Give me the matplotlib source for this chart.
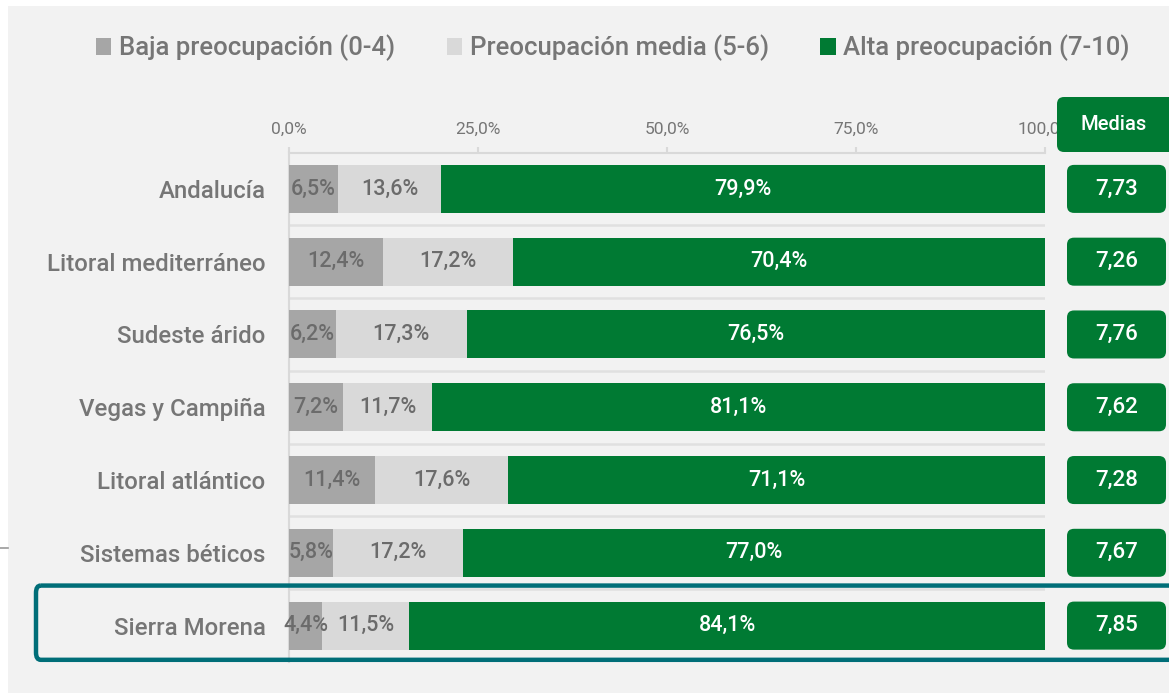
import matplotlib
matplotlib.use("Agg")
import matplotlib.pyplot as plt
from matplotlib.patches import Rectangle, FancyBboxPatch, Patch
from matplotlib.transforms import IdentityTransform, blended_transform_factory
from matplotlib.lines import Line2D

plt.rcParams['font.family'] = ['Roboto', 'DejaVu Sans']

categories = ["Andalucía", "Litoral mediterráneo", "Sudeste árido", "Vegas y Campiña",
              "Litoral atlántico", "Sistemas béticos", "Sierra Morena"]
baja = [6.5, 12.4, 6.2, 7.2, 11.4, 5.8, 4.4]
media = [13.6, 17.2, 17.3, 11.7, 17.6, 17.2, 11.5]
alta = [79.9, 70.4, 76.5, 81.1, 71.1, 77.0, 84.1]
medias = [7.73, 7.26, 7.76, 7.62, 7.28, 7.67, 7.85]
series_labels = ["Baja preocupación (0-4)", "Preocupación media (5-6)", "Alta preocupación (7-10)"]
xticks = [0, 25, 50, 75, 100]
highlight = "Sierra Morena"

C_BAJA = "#a6a6a6"
C_MEDIA = "#d9d9d9"
C_ALTA = "#007a33"
C_TEXT = "#767676"
C_TEAL = "#006e78"
BG = "#f2f2f2"

W, H = 1169, 693
fig = plt.figure(figsize=(W / 100, H / 100), dpi=100)
fig.patch.set_facecolor("white")
# background panel
fig.patches.append(Rectangle((8 / W, 0), 1 - 8 / W, 1 - 6 / H, transform=fig.transFigure,
                             facecolor=BG, edgecolor="none", zorder=-10))
fig.lines.append(Line2D([0, 8 / W], [1 - 548 / H, 1 - 548 / H], transform=fig.transFigure,
                        color="#9a9a9a", lw=1.2))

ax = fig.add_axes([289 / W, 1 - 662 / H, (1045 - 289) / W, (662 - 152.5) / H])
ax.set_facecolor("none")

def fmt(v, d=1):
    return f"{v:.{d}f}".replace(".", ",")

ypos = list(range(len(categories)))
bh = 0.66
lefts = [0] * len(categories)
for vals, col, tcol in [(baja, C_BAJA, "#6b6b6b"), (media, C_MEDIA, "#6b6b6b"), (alta, C_ALTA, "white")]:
    ax.barh(ypos, vals, left=lefts, height=bh, color=col, edgecolor="none", zorder=3)
    for y, l, v in zip(ypos, lefts, vals):
        ax.text(l + v / 2, y, fmt(v) + "%", ha="center", va="center", color=tcol,
                fontsize=15.5, fontweight="medium", zorder=5)
    lefts = [a + b for a, b in zip(lefts, vals)]

ax.set_xlim(0, 100)
ax.set_ylim(len(categories) - 0.5, -0.5)
ax.set_yticks(ypos)
ax.set_yticklabels(categories, fontsize=17.3, color=C_TEXT, fontweight="medium")
ax.tick_params(axis="y", length=0, pad=17)
ax.xaxis.tick_top()
ax.set_xticks(xticks)
ax.set_xticklabels([fmt(t) + "%" for t in xticks], fontsize=12.5, color=C_TEXT)
ax.tick_params(axis="x", length=4.5, width=1.5, color="#d9d9d9", pad=7)
for s in ["right", "bottom"]:
    ax.spines[s].set_visible(False)
for s in ["top", "left"]:
    ax.spines[s].set_color("#d9d9d9")
    ax.spines[s].set_linewidth(1.5)
ax.hlines([y + 0.5 for y in ypos], 0, 100, color="#e0e0e0", lw=1.8, zorder=1)

# Medias column
fig.canvas.draw()
ident = IdentityTransform()
hx0, hx1 = 1057, 1180
hy0, hy1 = H - 152, H - 97
fig.patches.append(FancyBboxPatch((hx0, hy0), hx1 - hx0, hy1 - hy0,
                                  boxstyle="round,pad=0,rounding_size=7",
                                  transform=ident, facecolor=C_ALTA, edgecolor="none", zorder=20))
fig.text(1114 / W, (hy0 + hy1) / 2 / H, "Medias", ha="center", va="center",
         color="white", fontsize=14.5, fontweight="medium", zorder=21)
bx0, bx1 = 1067, 1166
for y, m in zip(ypos, medias):
    yc = ax.transData.transform((0, y))[1]
    top = ax.transData.transform((0, y - bh / 2))[1]
    bot = ax.transData.transform((0, y + bh / 2))[1]
    fig.patches.append(FancyBboxPatch((bx0, bot), bx1 - bx0, top - bot,
                                      boxstyle="round,pad=0,rounding_size=7",
                                      transform=ident, facecolor=C_ALTA, edgecolor="none", zorder=20))
    fig.text((bx0 + bx1) / 2 / W, yc / H, fmt(m, 2), ha="center", va="center",
             color="white", fontsize=16, fontweight="medium", zorder=21)

# highlight box
hi = categories.index(highlight)
trans = blended_transform_factory(fig.transFigure, ax.transData)
ax.add_patch(FancyBboxPatch((36 / W, hi - 0.55), 1.2, 1.02, transform=trans, fill=False,
                            boxstyle="round,pad=0,rounding_size=0.004", mutation_aspect=25,
                            edgecolor=C_TEAL, lw=3.2, clip_on=False, zorder=30))

handles = [Patch(facecolor=c, edgecolor="none") for c in (C_BAJA, C_MEDIA, C_ALTA)]
leg = fig.legend(handles, series_labels, loc="center", bbox_to_anchor=(613 / W, 1 - 48 / H),
                 ncol=3, frameon=False, fontsize=18.5, handlelength=0.6, handleheight=0.65,
                 handletextpad=0.3, columnspacing=2.0,
                 prop={"size": 18.5, "weight": "medium"})
for t in leg.get_texts():
    t.set_color(C_TEXT)

fig.savefig("out.png", dpi=100, facecolor=fig.get_facecolor())
